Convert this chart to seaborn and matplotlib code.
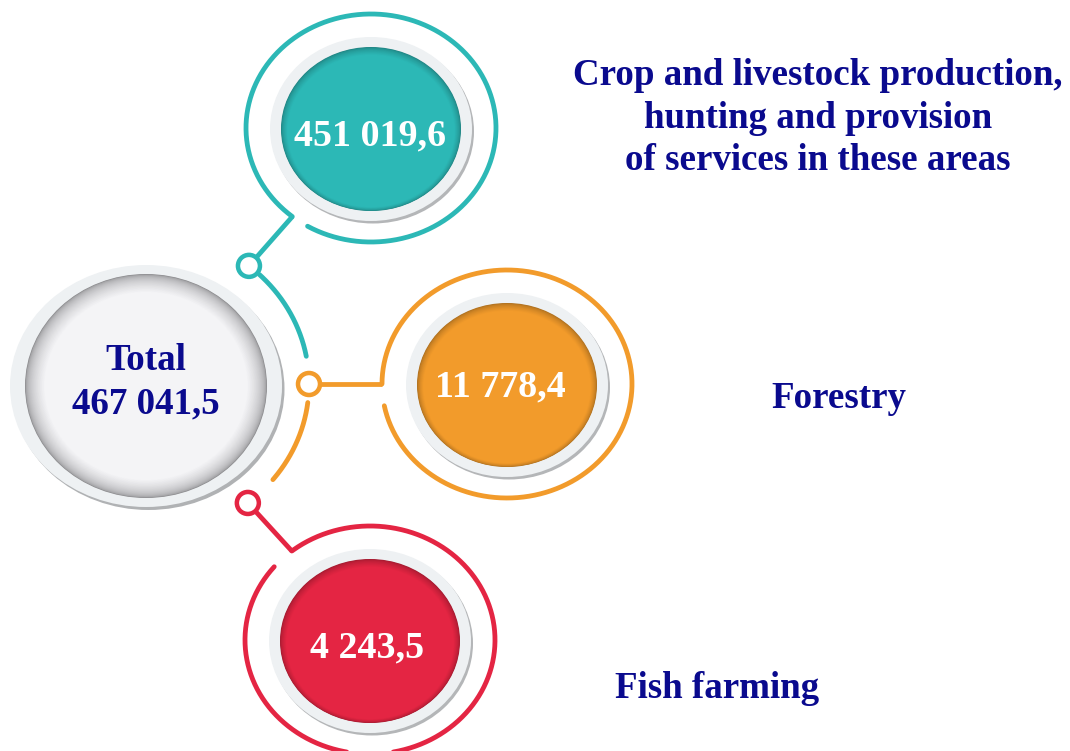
import numpy as np
import matplotlib
matplotlib.use("Agg")
import matplotlib.pyplot as plt
from matplotlib.patches import Ellipse
from matplotlib.colors import to_rgb
import seaborn as sns

# data
sectors = ["Crop and livestock production,\nhunting and provision\nof services in these areas",
           "Forestry",
           "Fish farming"]
values = [451019.6, 11778.4, 4243.5]
total_label = "Total"
total_value = 467041.5

sns.set_theme(style="white")
plt.rcParams["font.family"] = ["Liberation Serif", "DejaVu Serif"]

palette = sns.color_palette(["#2cb8b6", "#f29b2b", "#e42543"])
NAVY = "#0a0a8e"

W, H = 1070, 751
fig = plt.figure(figsize=(W / 100, H / 100), dpi=100)
ax = fig.add_axes([0, 0, 1, 1])
ax.set_xlim(0, W)
ax.set_ylim(H, 0)
ax.axis("off")

PX = 72 / 100  # px -> pt


def fmt(v):
    return f"{v:,.1f}".replace(",", " ").replace(".", ",")


def ell_pts(cx, cy, rx, ry, t1, t2, n=200):
    t = np.radians(np.linspace(t1, t2, n))
    return cx + rx * np.cos(t), cy - ry * np.sin(t)


def ell_pt(cx, cy, rx, ry, t):
    t = np.radians(t)
    return cx + rx * np.cos(t), cy - ry * np.sin(t)


def bubble(cx, cy, color, rx=90, ry=82):
    ax.add_patch(Ellipse((cx + 2, cy + 2.5), 2 * (rx + 11), 2 * (ry + 10),
                         color="#b4b6b8", zorder=2, lw=0))
    ax.add_patch(Ellipse((cx, cy), 2 * (rx + 11), 2 * (ry + 10),
                         color="#eef1f3", zorder=3, lw=0))
    base = np.array(to_rgb(color))
    dark = base * 0.72
    n = 14
    for i in range(n):
        f = i / (n - 1)
        s = 1 - 0.07 * f
        c = dark + (base - dark) * f ** 0.6
        ax.add_patch(Ellipse((cx, cy + 2 * f), 2 * rx * s, 2 * ry * s,
                             color=c, zorder=4, lw=0))


def dot(x, y, color, r=11):
    ax.add_patch(Ellipse((x, y), 2 * r, 2 * r, facecolor="white",
                         edgecolor=color, lw=4.5 * PX, zorder=6))


LW = 4.8 * PX

# hub (total)
hx, hy = 146, 386
ax.add_patch(Ellipse((hx + 2.5, hy + 3), 272, 242, color="#b0b2b4", lw=0, zorder=2))
ax.add_patch(Ellipse((hx, hy), 272, 242, color="#eef1f3", lw=0, zorder=3))
n = 30
for i in range(n):
    f = i / (n - 1)
    s = 1 - 0.16 * f
    g = 0.55 + (0.955 - 0.55) * (f ** 0.45)
    ax.add_patch(Ellipse((hx, hy), 242 * s, 224 * s, color=(g, g, g + 0.01),
                         lw=0, zorder=4))
ax.text(hx, 370, total_label, ha="center", va="baseline", color=NAVY,
        fontsize=37 * PX, fontweight="bold", zorder=8)
ax.text(hx, 413, fmt(total_value), ha="center", va="baseline", color=NAVY,
        fontsize=37 * PX, fontweight="bold", zorder=8)

# orbit around the hub
ox, oy, orx, ory = 147, 384, 162, 152
dot_angles = [51, 0, -51.5]
arc_spans = [(10.5, 46), (-7, -39)]
for (a1, a2), col in zip(arc_spans, palette[:2]):
    xs, ys = ell_pts(ox, oy, orx, ory, a1, a2)
    ax.plot(xs, ys, color=col, lw=LW, solid_capstyle="round", zorder=5)

# outer rings: center, gap start/end angles
ring_centers = [(371, 128), (507, 384), (370, 640)]
ring_spans = [(239.5, 591), (191, 540), (140, 488.7)]
ring_join = [231, 180, 128.7]
text_pos = [(370, 145), (500, 396), (367, 657)]
RX, RY = 125, 114

for i, col in enumerate(palette):
    cx, cy = ring_centers[i]
    t1, t2 = ring_spans[i]
    xs, ys = ell_pts(cx, cy, RX, RY, t1, t2, 400)
    ax.plot(xs, ys, color=col, lw=LW, solid_capstyle="round", zorder=5)
    # connector from ring to dot
    jx, jy = ell_pt(cx, cy, RX, RY, ring_join[i])
    dx, dy = ell_pt(ox, oy, orx, ory, dot_angles[i])
    v = np.array([jx - dx, jy - dy])
    v = v / np.hypot(*v)
    ax.plot([dx + 11 * v[0], jx], [dy + 11 * v[1], jy], color=col, lw=LW,
            solid_capstyle="butt", zorder=5)
    dot(dx, dy, col)
    bubble(cx, cy + 1, col)
    tx, ty = text_pos[i]
    ax.text(tx, ty, fmt(values[i]), ha="center", va="baseline", color="white",
            fontsize=38 * PX, fontweight="bold", zorder=8)

# sector labels
label_pos = [(818, 85), (839, 408), (717, 698)]
for lab, (lx, ly) in zip(sectors, label_pos):
    for k, line in enumerate(lab.split("\n")):
        ax.text(lx, ly + 42.5 * k, line, ha="center", va="baseline", color=NAVY,
                fontsize=37 * PX, fontweight="bold")

fig.savefig("out.png", dpi=100)
